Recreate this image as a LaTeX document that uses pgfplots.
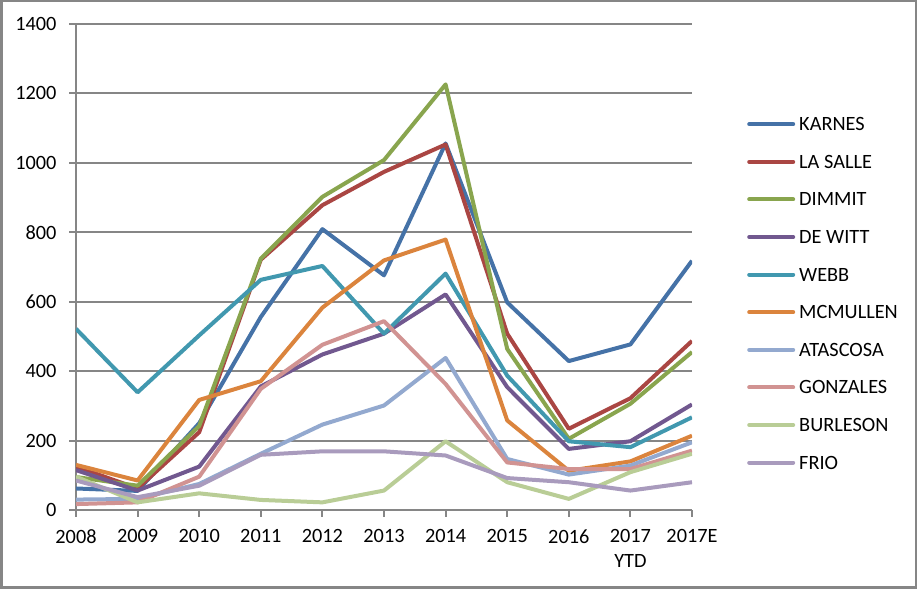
\documentclass[border=0pt]{standalone}
\usepackage{fontspec}
\setmainfont{Carlito}
\usepackage{pgfplots}
\pgfplotsset{compat=1.18}

\definecolor{gridgray}{HTML}{868686}
\definecolor{cKarnes}{HTML}{4572A7}
\definecolor{cLaSalle}{HTML}{AA4643}
\definecolor{cDimmit}{HTML}{89A54E}
\definecolor{cDeWitt}{HTML}{71588F}
\definecolor{cWebb}{HTML}{4198AF}
\definecolor{cMcMullen}{HTML}{DB843D}
\definecolor{cAtascosa}{HTML}{93A9CF}
\definecolor{cGonzales}{HTML}{D19392}
\definecolor{cBurleson}{HTML}{B9CD96}
\definecolor{cFrio}{HTML}{A99BBD}

\begin{document}
\begin{tikzpicture}
\useasboundingbox (0,0) rectangle (917bp,589bp);
\draw[gridgray, line width=2.5bp] (1.25bp,1.25bp) rectangle (915.75bp,587.75bp);
\begin{axis}[
    at={(76bp,79bp)}, anchor=south west,
    scale only axis, width=616bp, height=486bp,
    xmin=0, xmax=10, ymin=0, ymax=1400,
    xtick={0,...,10},
    xticklabels={2008,2009,2010,2011,2012,2013,2014,2015,2016,{2017\\YTD},2017E},
    xticklabel style={align=center, yshift=-9bp},
    yticklabel style={xshift=-9bp},
    ytick={0,200,...,1400},
    axis lines*=left,
    axis line style={gridgray, line width=2bp, -},
    ymajorgrids,
    major grid style={gridgray, line width=2bp},
    tick align=outside,
    major tick length=7bp,
    tick style={gridgray, line width=2bp},
    font=\fontsize{20.3bp}{25bp}\selectfont,
    /pgf/number format/assume math mode=true,
    /pgf/number format/1000 sep={},
    every axis plot/.append style={line width=4bp, line join=round, no markers},
    legend style={draw=none, fill=none, at={(axis description cs:1.0893,0.8086)},
      anchor=north west, inner sep=0pt, row sep=21.1bp, column sep=4bp,
      nodes={inner sep=0pt, text height=13.5bp, text depth=3bp, anchor=base west}},
    legend cell align=left,
    legend image code/.code={\draw[#1, line cap=round] (0bp,6.5bp) -- (44bp,6.5bp);},
]
\addplot[cKarnes] coordinates {(0,62) (1,55) (2,250) (3,556) (4,809) (5,676) (6,1056) (7,598) (8,429) (9,477) (10,718)};
\addlegendentry{KARNES}
\addplot[cLaSalle] coordinates {(0,125) (1,62) (2,224) (3,721) (4,878) (5,974) (6,1053) (7,508) (8,234) (9,322) (10,487)};
\addlegendentry{LA SALLE}
\addplot[cDimmit] coordinates {(0,95) (1,70) (2,242) (3,724) (4,902) (5,1008) (6,1226) (7,464) (8,205) (9,306) (10,455)};
\addlegendentry{DIMMIT}
\addplot[cDeWitt] coordinates {(0,115) (1,56) (2,125) (3,356) (4,448) (5,508) (6,621) (7,354) (8,176) (9,198) (10,304)};
\addlegendentry{DE WITT}
\addplot[cWebb] coordinates {(0,522) (1,339) (2,503) (3,663) (4,703) (5,508) (6,681) (7,387) (8,198) (9,181) (10,267)};
\addlegendentry{WEBB}
\addplot[cMcMullen] coordinates {(0,130) (1,85) (2,317) (3,371) (4,583) (5,719) (6,779) (7,258) (8,113) (9,140) (10,214)};
\addlegendentry{MCMULLEN}
\addplot[cAtascosa] coordinates {(0,30) (1,32) (2,75) (3,162) (4,246) (5,301) (6,438) (7,147) (8,102) (9,128) (10,195)};
\addlegendentry{ATASCOSA}
\addplot[cGonzales] coordinates {(0,17) (1,22) (2,96) (3,349) (4,476) (5,544) (6,363) (7,137) (8,118) (9,118) (10,171)};
\addlegendentry{GONZALES}
\addplot[cBurleson] coordinates {(0,96) (1,22) (2,48) (3,29) (4,22) (5,56) (6,198) (7,80) (8,32) (9,109) (10,162)};
\addlegendentry{BURLESON}
\addplot[cFrio] coordinates {(0,85) (1,37) (2,70) (3,159) (4,169) (5,169) (6,157) (7,92) (8,80) (9,56) (10,80)};
\addlegendentry{FRIO}
\end{axis}
\end{tikzpicture}
\end{document}
